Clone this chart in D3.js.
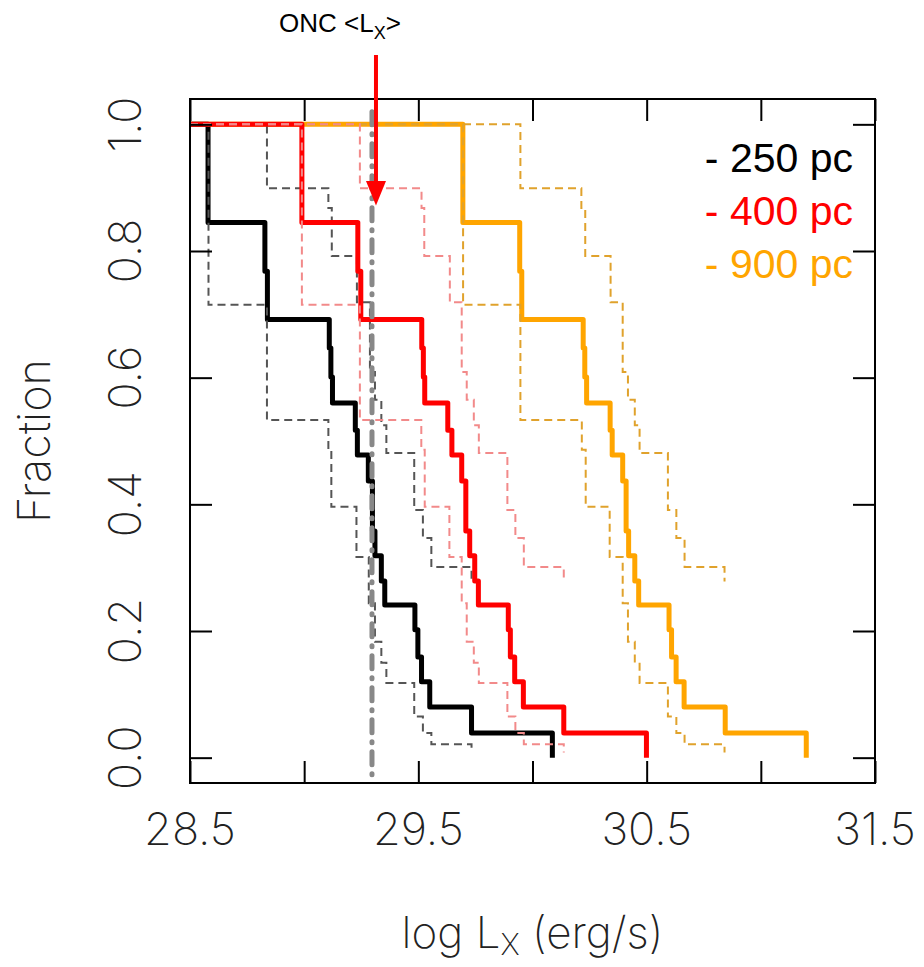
<!DOCTYPE html>
<html>
<head>
<meta charset="utf-8">
<script src="https://cdn.jsdelivr.net/npm/d3@7"></script>
<style>
	body { margin: 0; background: #fff; }
	svg { display: block; }
	.thin { font-family: Inter, Roboto, "DejaVu Sans", sans-serif; font-weight: 200; fill: #222; }
</style>
</head>
<body>
<svg id="chart" width="924" height="967"></svg>
<script>
// step levels (fraction of sources brighter than L), shared by the 3 distances
var fracSteps  = [0.845, 0.768, 0.692, 0.647, 0.601, 0.560, 0.517, 0.478, 0.437, 0.358, 0.319, 0.279, 0.241, 0.202, 0.159, 0.120, 0.080, 0.039, 0];
var upperSteps = [0.899, 0.868, 0.792, 0.719, 0.609, 0.565, 0.525, 0.481, 0.391, 0.347, 0.301, 0.278];
var lowerSteps = [0.715, 0.533, 0.486, 0.396, 0.317, 0.244, 0.183, 0.150, 0.118, 0.065, 0.039, 0.021, 0.008];

// log Lx where each step drops
var lx250   = [28.579, 28.828, 28.839, 29.110, 29.117, 29.124, 29.224, 29.233, 29.281, 29.299, 29.310, 29.338, 29.353, 29.485, 29.498, 29.514, 29.550, 29.733, 30.087];
var lx250Hi = [28.837, 29.106, 29.121, 29.231, 29.288, 29.310, 29.338, 29.360, 29.482, 29.520, 29.557, 29.733];
var lx250Lo = [28.581, 28.837, 29.106, 29.119, 29.229, 29.283, 29.310, 29.338, 29.360, 29.482, 29.520, 29.557, 29.733];

var lx400   = [28.990, 29.235, 29.248, 29.515, 29.522, 29.528, 29.629, 29.647, 29.690, 29.708, 29.725, 29.747, 29.763, 29.894, 29.903, 29.922, 29.960, 30.137, 30.499];
var lx400Hi = [29.244, 29.514, 29.526, 29.638, 29.690, 29.712, 29.743, 29.765, 29.890, 29.925, 29.962, 30.137];
var lx400Lo = [28.990, 29.244, 29.513, 29.528, 29.636, 29.690, 29.712, 29.743, 29.765, 29.890, 29.925, 29.962, 30.137];

var lx900   = [29.695, 29.944, 29.953, 30.222, 30.229, 30.237, 30.340, 30.349, 30.395, 30.410, 30.421, 30.448, 30.465, 30.598, 30.609, 30.629, 30.664, 30.844, 31.199];
var lx900Hi = [29.947, 30.214, 30.231, 30.342, 30.395, 30.418, 30.448, 30.469, 30.593, 30.630, 30.666, 30.841];
var lx900Lo = [29.696, 29.947, 30.216, 30.233, 30.338, 30.395, 30.418, 30.448, 30.469, 30.593, 30.630, 30.666, 30.841];

var distLabels = ["- 250 pc", "- 400 pc", "- 900 pc"];
var xTicks = [28.5, 29.0, 29.5, 30.0, 30.5, 31.0, 31.5];
var xTickLabels = [28.5, 29.5, 30.5, 31.5];
var yTicks = [0, 0.2, 0.4, 0.6, 0.8, 1.0];
var oncLx = 29.297;

function drawChart(){
	var svg = d3.select("#chart"),
		left = 190, right = 875, top = 99, bottom = 783;

	var x = d3.scaleLinear().domain([28.5, 31.5]).range([left, right]);
	var y = d3.scaleLinear().domain([-0.04, 1.04]).range([bottom, top]);

	var line = d3.line()
		.x(function(d) { return x(d[0]); })
		.y(function(d) { return y(d[1]); })
		.curve(d3.curveStepAfter);

	function steps(xs, levels){
		var pts = [[28.5, 1]];
		xs.forEach(function(v, i){ pts.push([v, levels[i]]); });
		return pts;
	}

	var groups = [
		{main: lx900, hi: lx900Hi, lo: lx900Lo, col: "#ffa500", dash: "#e0a22c"},
		{main: lx250, hi: lx250Hi, lo: lx250Lo, col: "#000000", dash: "#555555"},
		{main: lx400, hi: lx400Hi, lo: lx400Lo, col: "#ff0000", dash: "#f28a8a"}
	];

	var g = svg.append("g");
	groups.forEach(function(s){
		g.append("path")
			.datum(steps(s.main, fracSteps))
			.attr("fill", "none")
			.attr("stroke", s.col)
			.attr("stroke-width", 5)
			.attr("stroke-linejoin", "round")
			.attr("d", line);
		[steps(s.hi, upperSteps), steps(s.lo, lowerSteps)].forEach(function(pts){
			g.append("path")
				.datum(pts)
				.attr("fill", "none")
				.attr("stroke", s.dash)
				.attr("stroke-width", 2)
				.attr("stroke-dasharray", "8,5")
				.attr("d", line);
		});
	});

	// ONC mean Lx
	svg.append("line")
		.attr("x1", x(oncLx)).attr("x2", x(oncLx))
		.attr("y1", y(1.02)).attr("y2", y(-0.04))
		.attr("stroke", "#888")
		.attr("stroke-width", 5)
		.attr("stroke-linecap", "round")
		.attr("stroke-dasharray", "13,9,1,9");

	// axes with inward ticks on all sides
	var box = svg.append("g").attr("class", "axes");
	box.append("g")
		.attr("transform", "translate(0," + bottom + ")")
		.call(d3.axisBottom(x).tickValues(xTicks).tickSize(-22).tickFormat(""));
	box.append("g")
		.attr("transform", "translate(0," + top + ")")
		.call(d3.axisTop(x).tickValues(xTicks).tickSize(-22).tickFormat(""));
	box.append("g")
		.attr("transform", "translate(" + left + ",0)")
		.call(d3.axisLeft(y).tickValues(yTicks).tickSize(-22).tickFormat(""));
	box.append("g")
		.attr("transform", "translate(" + right + ",0)")
		.call(d3.axisRight(y).tickValues(yTicks).tickSize(-22).tickFormat(""));
	box.selectAll(".domain").remove();
	box.selectAll(".tick line").attr("stroke", "#000").attr("stroke-width", 2);
	box.append("rect")
		.attr("x", left).attr("y", top)
		.attr("width", right - left).attr("height", bottom - top)
		.attr("fill", "none")
		.attr("stroke", "#000")
		.attr("stroke-width", 2);

	// tick labels
	svg.append("g").selectAll("text")
		.data(xTickLabels)
		.enter().append("text")
			.attr("class", "thin")
			.attr("x", function(d) { return x(d); })
			.attr("y", 845)
			.attr("text-anchor", "middle")
			.attr("font-size", 45)
			.text(function(d) { return d3.format(".1f")(d); });

	svg.append("g").selectAll("text")
		.data(yTicks)
		.enter().append("text")
			.attr("class", "thin")
			.attr("transform", function(d) { return "translate(141," + y(d) + ") rotate(-90)"; })
			.attr("text-anchor", "middle")
			.attr("font-size", 45)
			.text(function(d) { return d3.format(".1f")(d); });

	svg.append("text")
		.attr("class", "thin")
		.attr("transform", "translate(50," + (top + bottom) / 2 + ") rotate(-90)")
		.attr("text-anchor", "middle")
		.attr("font-size", 45)
		.text("Fraction");

	var xt = svg.append("text")
		.attr("class", "thin")
		.attr("x", (left + right) / 2)
		.attr("y", 948)
		.attr("text-anchor", "middle")
		.attr("font-size", 44);
	xt.append("tspan").text("log L");
	xt.append("tspan").attr("dy", 7).attr("font-size", 30).text("X");
	xt.append("tspan").attr("dy", -7).text(" (erg/s)");

	// legend
	var colors = ["#000000", "#ff0000", "#ffa500"];
	svg.append("g").selectAll("text")
		.data(distLabels)
		.enter().append("text")
			.attr("x", 853)
			.attr("y", function(d, i) { return 172 + i * 53; })
			.attr("text-anchor", "end")
			.attr("font-family", "'Liberation Sans', Arial, sans-serif")
			.attr("font-size", 41)
			.attr("fill", function(d, i) { return colors[i]; })
			.text(function(d) { return d; });

	// ONC annotation + arrow
	var ax = x(oncLx) + 4;
	svg.append("line")
		.attr("x1", ax).attr("x2", ax)
		.attr("y1", 55).attr("y2", 184)
		.attr("stroke", "#ff0000")
		.attr("stroke-width", 4);
	svg.append("path")
		.attr("d", "M" + (ax - 10) + ",181L" + (ax + 10) + ",181L" + ax + "," + y(0.872) + "Z")
		.attr("fill", "#ff0000");

	var lab = svg.append("text")
		.attr("x", 279)
		.attr("y", 32)
		.attr("font-family", "'Liberation Sans', Arial, sans-serif")
		.attr("font-size", 26)
		.attr("fill", "#000");
	lab.append("tspan").text("ONC <L");
	lab.append("tspan").attr("dy", 7).attr("font-size", 18).text("X");
	lab.append("tspan").attr("dy", -7).text(">");
}
drawChart();
</script>
</body>
</html>
